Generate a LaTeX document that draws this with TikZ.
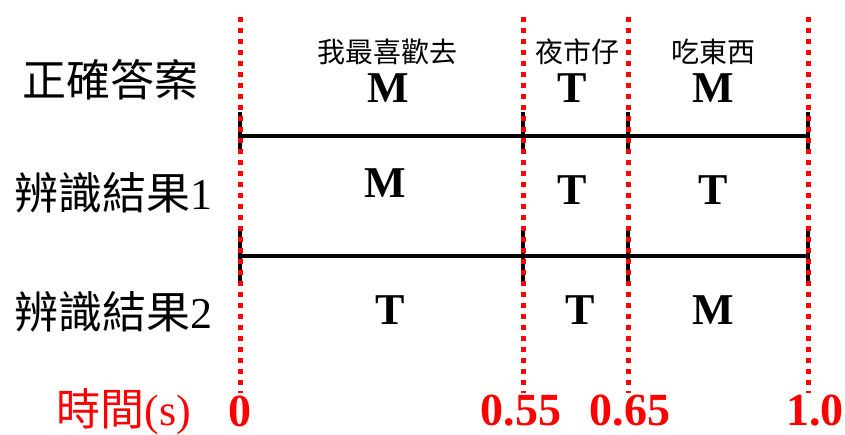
\documentclass[tikz,border=0pt]{standalone}
\usepackage{fontspec}
\setmainfont{Liberation Serif}
\newfontfamily\cjk{Noto Sans CJK TC}
\begin{document}
\begin{tikzpicture}[x=1pt,y=-1pt,
  redline/.style={draw=red, line width=5pt, dash pattern=on 5pt off 6pt},
  blackline/.style={draw=black, line width=3.5pt},
  biglabel/.style={font=\fontsize{44}{44}\selectfont, inner sep=0pt},
  tag/.style={font=\fontsize{44}{44}\selectfont\bfseries, inner sep=0pt},
  word/.style={font=\cjk\fontsize{28}{28}\selectfont, inner sep=0pt},
  tick/.style={font=\fontsize{46}{46}\selectfont\bfseries, text=red, inner sep=0pt}]
\useasboundingbox (0,0) rectangle (845,435);
% grid coordinates
\foreach \n/\x in {a/240,b/523,c/628,d/808}{
  \coordinate (\n top) at (\x,17);
  \coordinate (\n bot) at (\x,393);
  \coordinate (\n s1) at (\x,112);
  \coordinate (\n e1) at (\x,153);
  \coordinate (\n s2) at (\x,226);
  \coordinate (\n e2) at (\x,284);
}
\coordinate (h1l) at (240,136);
\coordinate (h1r) at (808,136);
\coordinate (h2l) at (240,256);
\coordinate (h2r) at (808,256);
% black lines
\draw[blackline] (h1l) -- (h1r);
\draw[blackline] (h2l) -- (h2r);
\foreach \n in {a,b,c,d}{
  \draw[blackline] (\n s1) -- (\n e1);
  \draw[blackline] (\n s2) -- (\n e2);
}
% red dotted lines
\foreach \n in {a,b,c,d}{
  \draw[redline] (\n top) -- (\n bot);
}
% row labels
\node[biglabel] (lab0) at (110,80) {\cjk 正確答案};
\node[biglabel] (lab1) at (113,193) {{\cjk 辨識結果}1};
\node[biglabel] (lab2) at (113,312) {{\cjk 辨識結果}2};
\node[biglabel, text=red] (labt) at (124,412) {{\cjk 時間}(s)};
% words
\node[word] (w1) at (387,52) {我最喜歡去};
\node[word] (w2) at (577,52) {夜市仔};
\node[word] (w3) at (713,52) {吃東西};
% tags
\node[tag] (r0a) at (388,88) {M};
\node[tag] (r0b) at (572,88) {T};
\node[tag] (r0c) at (713,88) {M};
\node[tag] (r1a) at (385,183) {M};
\node[tag] (r1b) at (572,190) {T};
\node[tag] (r1c) at (713,190) {T};
\node[tag] (r2a) at (390,310) {T};
\node[tag] (r2b) at (580,310) {T};
\node[tag] (r2c) at (713,310) {M};
% ticks
\node[tick] (t0) at (240,411) {0};
\node[tick] (t1) at (521,411) {0.55};
\node[tick] (t2) at (630,411) {0.65};
\node[tick] (t3) at (815,411) {1.0};
\end{tikzpicture}
\end{document}
